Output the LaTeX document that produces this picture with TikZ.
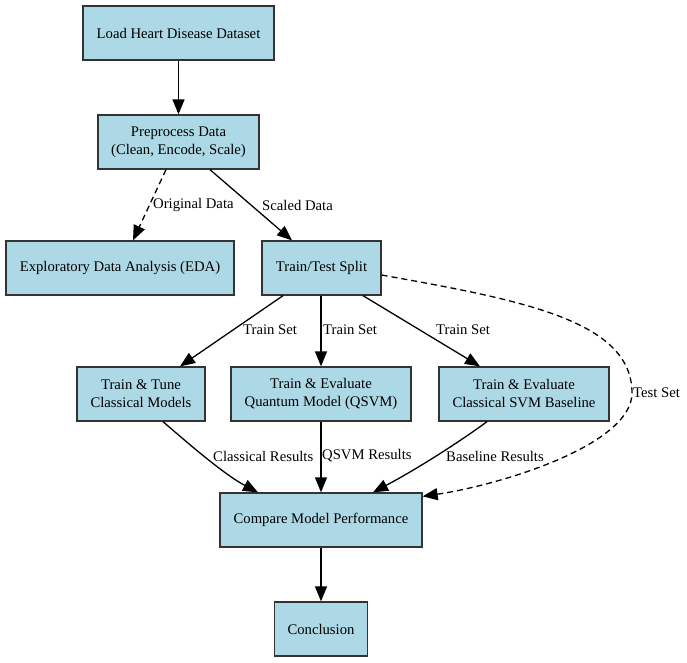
\documentclass[tikz,border=0pt]{standalone}
\usepackage{fontspec}
\setmainfont{Liberation Serif}
\usetikzlibrary{arrows.meta,calc}
\definecolor{boxfill}{HTML}{ADD8E6}
\definecolor{boxline}{HTML}{333333}
\begin{document}
\begin{tikzpicture}[x=1pt,y=-1pt,
  box/.style={draw=boxline,fill=boxfill,line width=1.3pt,minimum height=54pt,align=center,inner sep=0pt,font=\fontsize{14.7}{18}\selectfont},
  lbl/.style={font=\fontsize{14.7}{17}\selectfont,inner sep=0pt},
  conn/.style={line width=1.3pt,-{Triangle[length=15pt,width=12pt]}},
  dconn/.style={conn,dash pattern=on 6pt off 4pt}]
\useasboundingbox (0,0) rectangle (687,662);
\node[box,minimum width=191pt] (load) at (178.5,33) {Load Heart Disease Dataset};
\node[box,minimum width=161pt] (prep) at (178.5,142) {Preprocess Data\\(Clean, Encode, Scale)};
\node[box,minimum width=228pt] (eda) at (120,268) {Exploratory Data Analysis (EDA)};
\node[box,minimum width=119pt] (tts) at (321.5,268) {Train/Test Split};
\node[box,minimum width=128pt] (cls) at (141,394) {Train \& Tune\\Classical Models};
\node[box,minimum width=180pt] (qsvm) at (321,394) {Train \& Evaluate\\Quantum Model (QSVM)};
\node[box,minimum width=170pt] (svm) at (524,394) {Train \& Evaluate\\Classical SVM Baseline};
\node[box,minimum width=202pt] (cmp) at (321,520) {Compare Model Performance};
\node[box,minimum width=93pt] (conc) at (321,629) {Conclusion};

\draw[conn] (load) -- (prep);
\draw[dconn] ([xshift=-12.5pt]prep.south) -- ([xshift=13pt]eda.north);
\draw[conn] ([xshift=31.5pt]prep.south) -- ([xshift=-29.5pt]tts.north);
\draw[conn] ([xshift=-38.5pt]tts.south) -- ([xshift=39pt]cls.north);
\draw[conn] ([xshift=-0.5pt]tts.south) -- (qsvm.north);
\draw[conn] ([xshift=41.5pt]tts.south) -- ([xshift=-44pt]svm.north);
\draw[dconn] ([yshift=-7pt]tts.east) .. controls (520,300) and (632,320) .. (632,393)
  .. controls (632,445) and (500,485) .. ([yshift=-4pt]cmp.north east);
\draw[conn] ([xshift=22pt]cls.south) .. controls (190,445) and (225,475) .. ([xshift=-63pt]cmp.north);
\draw[conn] (qsvm.south) -- (cmp.north);
\draw[conn] ([xshift=-37pt]svm.south) .. controls (455,445) and (415,470) .. ([xshift=52pt]cmp.north);
\draw[conn] (cmp) -- (conc);

\node[lbl,anchor=west] (l1) at (153,205) {Original Data};
\node[lbl,anchor=west] (l2) at (262,205) {Scaled Data};
\node[lbl,anchor=west] (l3) at (243,330) {Train Set};
\node[lbl,anchor=west] (l4) at (323,330) {Train Set};
\node[lbl,anchor=west] (l5) at (436,330) {Train Set};
\node[lbl,anchor=west] (l6) at (633,393) {Test Set};
\node[lbl,anchor=west] (l7) at (213,456) {Classical Results};
\node[lbl,anchor=west] (l8) at (322,456) {QSVM Results};
\node[lbl,anchor=west] (l9) at (446,456) {Baseline Results};
\end{tikzpicture}
\end{document}
